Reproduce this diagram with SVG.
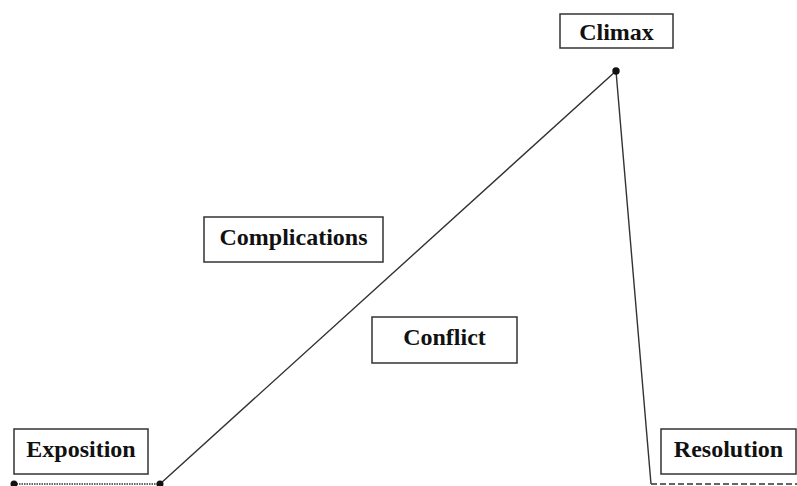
<svg xmlns="http://www.w3.org/2000/svg" width="797" height="486" viewBox="0 0 797 486">
<style>
.box{fill:#fff;stroke:#333;stroke-width:1.5}
.lbl{font-family:"Liberation Serif","Times New Roman",serif;font-weight:bold;font-size:24px;fill:#111;text-anchor:middle}
.ln{fill:none;stroke:#333;stroke-width:1.4}
.dot{fill:#111}
</style>
<rect width="797" height="486" fill="#fff"/>
<g id="connectors">
<line class="ln" x1="14" y1="484" x2="160" y2="484" stroke-dasharray="1.5 1"/>
<polyline class="ln" points="160,484 616,71 651,484"/>
<line class="ln" x1="651" y1="484" x2="797" y2="484" stroke-dasharray="6 3"/>
<circle class="dot" cx="14" cy="484" r="3.5"/>
<circle class="dot" cx="160" cy="484" r="3.5"/>
<circle class="dot" cx="616" cy="71" r="3.7"/>
</g>
<g id="exposition">
<rect class="box" x="14" y="429" width="134" height="45"/>
<text class="lbl" x="81" y="457">Exposition</text>
</g>
<g id="complications">
<rect class="box" x="204" y="217" width="179" height="45"/>
<text class="lbl" x="293.5" y="245">Complications</text>
</g>
<g id="conflict">
<rect class="box" x="372" y="317" width="145" height="46"/>
<text class="lbl" x="444.5" y="345">Conflict</text>
</g>
<g id="climax">
<rect class="box" x="560" y="14" width="113" height="34"/>
<text class="lbl" x="616.5" y="40">Climax</text>
</g>
<g id="resolution">
<rect class="box" x="661" y="429" width="135" height="45"/>
<text class="lbl" x="728.5" y="457">Resolution</text>
</g>
</svg>
